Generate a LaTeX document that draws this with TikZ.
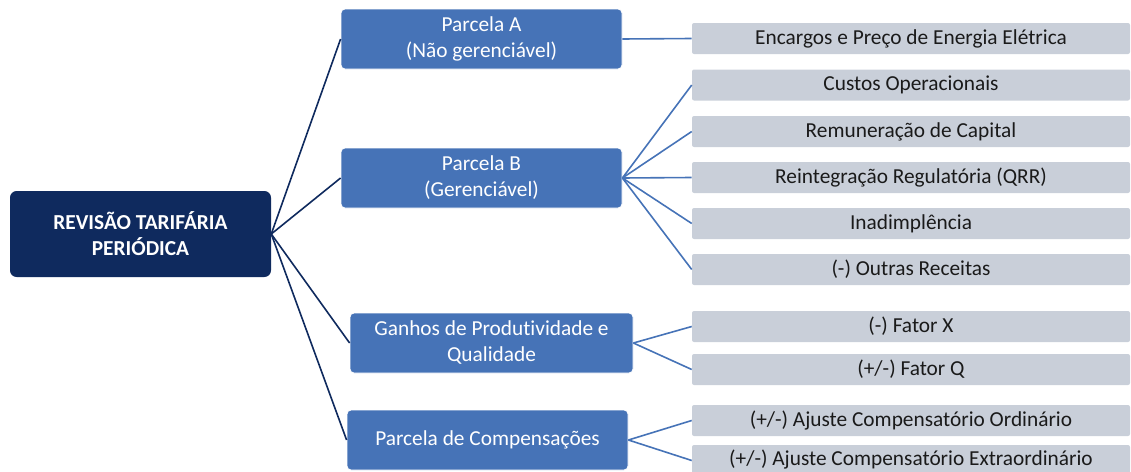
\documentclass[tikz,border=0pt]{standalone}
\usepackage{fontspec}
\setmainfont{Carlito}[Ligatures=CommonOff]
\definecolor{navy}{HTML}{0F2A5E}
\definecolor{midblue}{HTML}{4673B7}
\definecolor{lgray}{HTML}{C9CFD9}
\definecolor{txtgray}{HTML}{1A1A1A}
\tikzset{
  rootbox/.style={fill=navy, rounded corners=5pt, text=white, font=\fontsize{16}{19.5}\selectfont\bfseries, align=center, inner sep=0pt},
  lvlbox/.style={fill=midblue, draw=white, line width=0.6pt, rounded corners=3pt, text=white, font=\fontsize{16}{19.5}\selectfont, align=center, inner sep=0pt, minimum height=60*0.75pt},
  graybox/.style={fill=lgray, rounded corners=1.5pt, text=txtgray, font=\fontsize{16}{19}\selectfont, inner sep=0pt, minimum width=438*0.75pt, minimum height=31*0.75pt},
  rootline/.style={draw=navy, line width=1.2pt},
  subline/.style={draw=midblue, line width=1.2pt}
}
\begin{document}
\begin{tikzpicture}[x=0.75pt,y=-0.75pt]
\useasboundingbox (0,0) rectangle (1131,471);
\node[rootbox, minimum width=261*0.75pt, minimum height=86*0.75pt] (root) at (140.5,234) {REVISÃO TARIFÁRIA\\PERIÓDICA};
\node[lvlbox, minimum width=281*0.75pt] (pa) at (481.5,39) {Parcela A\\(Não gerenciável)};
\node[lvlbox, minimum width=281*0.75pt] (pb) at (481.5,178) {Parcela B\\(Gerenciável)};
\node[lvlbox, minimum width=283*0.75pt] (pg) at (491.5,343) {Ganhos de Produtividade e\\Qualidade};
\node[lvlbox, minimum width=281*0.75pt] (pc) at (487.5,440) {Parcela de Compensações};
\node[graybox] (g1) at (911,38.5) {Encargos e Preço de Energia Elétrica};
\node[graybox] (g2) at (911,85) {Custos Operacionais};
\node[graybox] (g3) at (911,131.5) {Remuneração de Capital};
\node[graybox] (g4) at (911,177.5) {Reintegração Regulatória (QRR)};
\node[graybox] (g5) at (911,223.5) {Inadimplência};
\node[graybox] (g6) at (911,269.5) {(-) Outras Receitas};
\node[graybox] (g7) at (911,326.5) {(-) Fator X};
\node[graybox] (g8) at (911,369.5) {(+/-) Fator Q};
\node[graybox] (g9) at (911,420.5) {(+/-) Ajuste Compensatório Ordinário};
\node[graybox, text depth=0pt] (g10) at (911,460.5) {\raisebox{4pt}{(+/-) Ajuste Compensatório Extraordinário}};
\foreach \t in {pa,pb,pg,pc} \draw[rootline] (root.east) -- (\t.west);
\draw[subline] (pa.east) -- (g1.west);
\foreach \t in {g2,g3,g4,g5,g6} \draw[subline] (pb.east) -- (\t.west);
\foreach \t in {g7,g8} \draw[subline] (pg.east) -- (\t.west);
\foreach \t in {g9,g10} \draw[subline] (pc.east) -- (\t.west);
\end{tikzpicture}
\end{document}
